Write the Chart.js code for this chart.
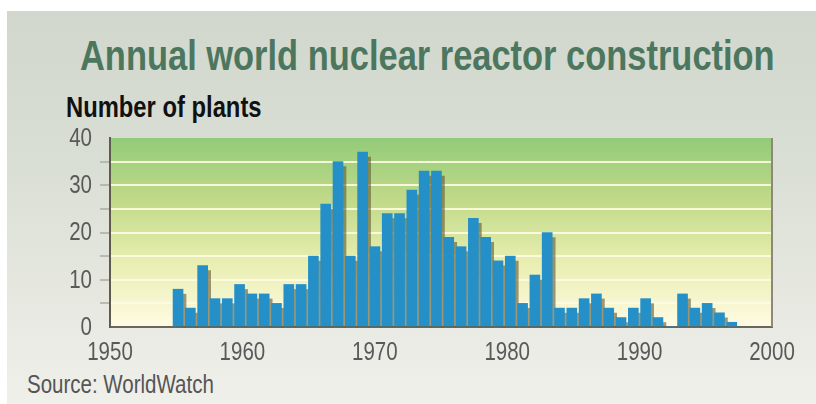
<!DOCTYPE html>
<html>
<head>
<meta charset="utf-8">
<script src="https://cdn.jsdelivr.net/npm/chart.js@4.4.1/dist/chart.umd.min.js"></script>
<style>
  html, body { margin: 0; padding: 0; width: 816px; height: 404px; overflow: hidden; background: #fff; }
  .panel {
    position: absolute; left: 7px; top: 11px; right: 0; bottom: 0;
    background: linear-gradient(180deg, #d1d7cd 0%, #dadfd5 40%, #e9eae3 80%, #f0f0eb 100%);
  }
  .txt { position: absolute; white-space: nowrap; line-height: 1; transform-origin: 0 0; }
  #title { left: 80px; top: 35px; font-size: 42px; font-weight: bold; color: #4c775e; }
  #units { left: 66px; top: 93px; font-size: 29px; font-weight: bold; color: #111; }
  #source { left: 27px; top: 372px; font-size: 25px; color: #555; }
  #chart { position: absolute; left: 0; top: 0; }
</style>
</head>
<body>
<div class="panel"></div>
<div class="txt" id="title">Annual world nuclear reactor construction</div>
<div class="txt" id="units">Number of plants</div>
<div class="txt" id="source">Source: WorldWatch</div>
<canvas id="chart" width="816" height="404"></canvas>
<script>
// Reactors started each year
const years = [
  1955, 1956, 1957, 1958, 1959, 1960, 1961, 1962, 1963, 1964,
  1965, 1966, 1967, 1968, 1969, 1970, 1971, 1972, 1973, 1974,
  1975, 1976, 1977, 1978, 1979, 1980, 1981, 1982, 1983, 1984,
  1985, 1986, 1987, 1988, 1989, 1990, 1991, 1992, 1993, 1994,
  1995, 1996, 1997, 1998, 1999, 2000
];
const plants = [
  8, 4, 13, 6, 6, 9, 7, 7, 5, 9,
  9, 15, 26, 35, 15, 37, 17, 24, 24, 29,
  33, 33, 19, 17, 23, 19, 14, 15, 5, 11,
  20, 4, 4, 6, 7, 4, 2, 4, 6, 2,
  0, 7, 4, 5, 3, 1
];
const yearTicks = [1950, 1960, 1970, 1980, 1990, 2000];
const valueTicks = [0, 10, 20, 30, 40];

// pick a narrow sans if one is installed, otherwise squeeze the regular one
function fontAvailable(name) {
  const c = document.createElement('canvas').getContext('2d');
  const sample = 'Source 1950 WorldWatch';
  c.font = '40px monospace';
  const base = c.measureText(sample).width;
  c.font = '40px "' + name + '", monospace';
  return c.measureText(sample).width !== base;
}
const narrow = ['Liberation Sans Narrow', 'Arial Narrow'].find(fontAvailable);
const family = narrow ? '"' + narrow + '", sans-serif' : '"Liberation Sans", Arial, sans-serif';
const squeeze = narrow ? 1 : 0.82;

document.querySelectorAll('.txt').forEach(el => {
  el.style.fontFamily = family;
  if (squeeze !== 1) el.style.transform = 'scaleX(' + squeeze + ')';
});

const plotBackground = {
  id: 'plotBackground',
  beforeDraw(chart) {
    const { ctx, chartArea: a } = chart;
    const g = ctx.createLinearGradient(0, a.top, 0, a.bottom);
    g.addColorStop(0, '#93cb78');
    g.addColorStop(0.35, '#c3db8b');
    g.addColorStop(0.65, '#e8eeb0');
    g.addColorStop(1, '#fffbe3');
    ctx.save();
    ctx.fillStyle = g;
    ctx.fillRect(a.left, a.top, a.right - a.left, a.bottom - a.top);
    ctx.restore();
  }
};

const barShadow = {
  id: 'barShadow',
  beforeDatasetsDraw(chart) {
    const ctx = chart.ctx;
    ctx.save();
    ctx.shadowColor = 'rgba(95, 85, 50, 0.6)';
    ctx.shadowOffsetX = 3;
    ctx.shadowOffsetY = 5;
    ctx.shadowBlur = 0;
  },
  afterDatasetsDraw(chart) {
    chart.ctx.restore();
  }
};

// right edge of the plot plus condensed tick labels
const frameAndLabels = {
  id: 'frameAndLabels',
  afterDraw(chart) {
    const { ctx, chartArea: a, scales } = chart;
    ctx.save();
    ctx.strokeStyle = '#8c887b';
    ctx.lineWidth = 2;
    ctx.beginPath();
    ctx.moveTo(a.right, a.top);
    ctx.lineTo(a.right, a.bottom);
    ctx.stroke();

    ctx.fillStyle = '#595959';
    ctx.font = '25px ' + family;
    ctx.textBaseline = 'middle';

    ctx.textAlign = 'right';
    valueTicks.forEach(v => {
      ctx.save();
      ctx.translate(a.left - 18, scales.y.getPixelForValue(v) + 1);
      ctx.scale(squeeze, 1);
      ctx.fillText(String(v), 0, 0);
      ctx.restore();
    });

    ctx.textAlign = 'center';
    yearTicks.forEach(v => {
      ctx.save();
      ctx.translate(scales.x.getPixelForValue(v), a.bottom + 26);
      ctx.scale(squeeze, 1);
      ctx.fillText(String(v), 0, 0);
      ctx.restore();
    });
    ctx.restore();
  }
};

new Chart(document.getElementById('chart'), {
  type: 'bar',
  data: {
    datasets: [{
      data: years.map((yr, i) => ({ x: yr, y: plants[i] })),
      xAxisID: 'xBars',
      backgroundColor: '#2590c8',
      borderWidth: 0,
      barThickness: 10,
      clip: 0
    }]
  },
  options: {
    responsive: false,
    animation: false,
    layout: { padding: { top: 138, right: 44, left: 0, bottom: 0 } },
    plugins: {
      legend: { display: false },
      tooltip: { enabled: false }
    },
    scales: {
      xBars: {
        type: 'linear',
        display: false,
        offset: false,
        min: 1949.47,
        max: 2003.27
      },
      x: {
        type: 'linear',
        position: 'bottom',
        offset: false,
        min: 1950,
        max: 2000,
        afterBuildTicks: s => { s.ticks = yearTicks.map(v => ({ value: v })); },
        afterFit: s => { s.height = 77; },
        grid: { display: false },
        border: { display: true, color: '#6a665a', width: 2 },
        ticks: { display: false }
      },
      y: {
        min: 0,
        max: 40,
        afterFit: s => { s.width = 110; },
        border: { display: true, color: '#5f5b4f', width: 2 },
        grid: {
          color: c => (c.tick.value === 0 || c.tick.value === 40) ? 'rgba(0,0,0,0)' : 'rgba(255, 251, 226, 0.9)',
          lineWidth: 2,
          drawTicks: true,
          tickLength: 10,
          tickWidth: 1.5,
          tickColor: c => (c.tick.value === 0 || c.tick.value === 40) ? 'rgba(0,0,0,0)' : '#aeab9f'
        },
        ticks: { stepSize: 5, display: false }
      }
    }
  },
  plugins: [plotBackground, barShadow, frameAndLabels]
});
</script>
</body>
</html>
